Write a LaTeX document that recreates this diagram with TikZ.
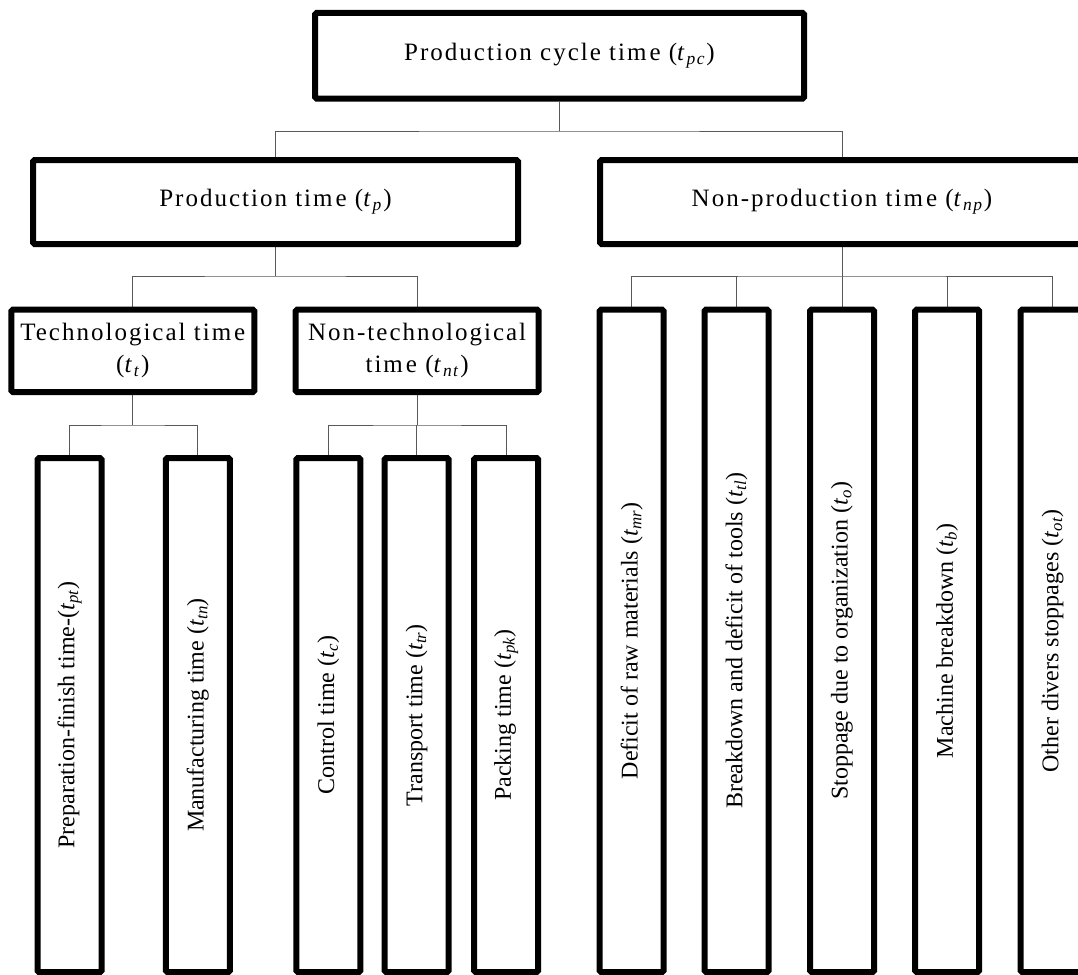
\documentclass[tikz,border=0pt]{standalone}
\usepackage{fontspec}
\setmainfont{Liberation Serif}
\newfontfamily\spacedfont{Liberation Serif}[LetterSpace=8]
\usetikzlibrary{backgrounds}
\newcommand{\tsub}[2]{\textit{#1}\textsubscript{\textit{#2}}}
\tikzset{
  bigbox/.style={draw, line width=6pt, rounded corners=1.5pt, inner sep=0pt,
    font=\fontsize{25}{32}\selectfont\spacedfont, align=center},
  tallbox/.style={draw, line width=6pt, rounded corners=1.5pt, inner sep=0pt,
    minimum width=64pt, font=\fontsize{24}{28}\selectfont},
  rtall/.style={tallbox, minimum height=662.3pt},
  ltall/.style={tallbox, minimum height=514pt},
  link/.style={line width=1pt, draw=black!65},
}
\begin{document}
\begin{tikzpicture}[x=1pt,y=-1pt]
\useasboundingbox (0,0) rectangle (1078,974);
\clip (0,0) rectangle (1078,974);

\node[bigbox, minimum width=489pt, minimum height=85.5pt] (pct) at (559.5,55.75)
  {Production cycle tim\kern3pt e (\tsub{t}{pc})};
\node[bigbox, minimum width=485pt, minimum height=84pt] (prod) at (275.5,202)
  {Production tim\kern3pt e (\tsub{t}{p})};
\node[bigbox, minimum width=484pt, minimum height=84pt] (nonprod) at (842,202)
  {Non-production tim\kern3pt e (\tsub{t}{np})};
\node[bigbox, minimum width=243pt, minimum height=82.3pt] (tech) at (132.8,350.85)
  {Technological tim\kern3pt e\\(\tsub{t}{t})};
\node[bigbox, minimum width=242.8pt, minimum height=82.3pt] (nontech) at (417.1,350.85)
  {Non-technological\\tim\kern3pt e (\tsub{t}{nt})};

\node[ltall] (pt) at (69.5,715) {\rotatebox{90}{Preparation-finish time-(\tsub{t}{pt})}};
\node[ltall] (tn) at (197.8,715) {\rotatebox{90}{Manufacturing time (\tsub{t}{tn})}};
\node[ltall] (c)  at (328.3,715) {\rotatebox{90}{Control time (\tsub{t}{c})}};
\node[ltall] (tr) at (416.7,715) {\rotatebox{90}{Transport time (\tsub{t}{tr})}};
\node[ltall] (pk) at (506.2,715) {\rotatebox{90}{Packing time (\tsub{t}{pk})}};

\node[rtall] (mr) at (631.7,640.85) {\rotatebox{90}{Deficit of raw materials (\tsub{t}{mr})}};
\node[rtall] (tl) at (736.5,640.85) {\rotatebox{90}{Breakdown and deficit of tools (\tsub{t}{tl})}};
\node[rtall] (o)  at (842,640.85) {\rotatebox{90}{Stoppage due to organization (\tsub{t}{o})}};
\node[rtall] (b)  at (947.2,640.85) {\rotatebox{90}{Machine breakdown (\tsub{t}{b})}};
\node[rtall] (ot) at (1052.7,640.85) {\rotatebox{90}{Other divers stoppages (\tsub{t}{ot})}};

\coordinate (j0) at (559.5,131);
\coordinate (j1) at (275.5,276);
\coordinate (j2) at (842,276);
\coordinate (j3) at (132.8,425);
\coordinate (j4) at (417.1,425);

\begin{scope}[on background layer]
\fill[white] (0,0) rectangle (1078,974);
\draw[link] (pct.south) -- (j0);
\draw[link] (prod.north) |- (j0) -| (nonprod.north);
\draw[link] (prod.south) -- (j1);
\draw[link] (tech.north) |- (j1) -| (nontech.north);
\draw[link] (nonprod.south) -- (j2);
\draw[link] (mr.north) |- (j2) -| (ot.north);
\draw[link] (tl.north) -- (tl.north |- j2);
\draw[link] (o.north) -- (j2);
\draw[link] (b.north) -- (b.north |- j2);
\draw[link] (tech.south) -- (j3);
\draw[link] (pt.north) |- (j3) -| (tn.north);
\draw[link] (nontech.south) -- (j4);
\draw[link] (c.north) |- (j4) -| (pk.north);
\draw[link] (tr.north) -- (tr.north |- j4);
\end{scope}
\end{tikzpicture}
\end{document}
